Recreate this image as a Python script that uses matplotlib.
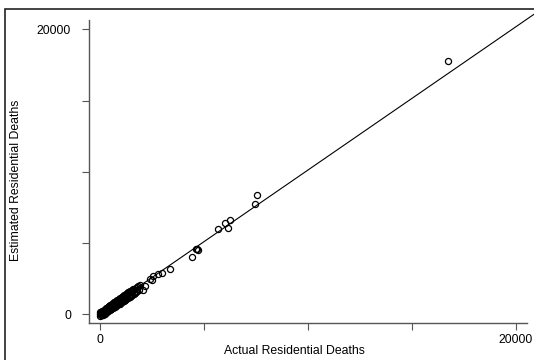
import matplotlib
matplotlib.use("Agg")
import matplotlib.pyplot as plt
from matplotlib.patches import Rectangle

plt.rcParams["font.family"] = ["Liberation Sans", "DejaVu Sans"]

# actual vs estimated residential deaths
actual = [0, 0, 20, 30, 50, 60, 80, 100, 110, 130, 150, 160, 180, 200, 210, 230,
          250, 260, 280, 300, 310, 330, 350, 370, 380, 400, 420, 440, 450, 470,
          490, 510, 520, 540, 560, 580, 600, 620, 640, 660, 680, 700, 720, 740,
          760, 780, 800, 820, 840, 860, 880, 900, 920, 940, 960, 980, 1000, 1020,
          1040, 1060, 1080, 1100, 1120, 1140, 1160, 1180, 1200, 1220, 1240, 1260,
          1280, 1300, 1320, 1340, 1360, 1380, 1400, 1420, 1440, 1460, 1480, 1500,
          1530, 1560, 1590, 1620, 1650, 1680, 1710, 1740, 1770, 1800, 1840, 1880,
          1920, 2080, 2160, 2400, 2480, 2560, 2770, 2970, 3370,
          4440, 4600, 4650, 4700, 5670, 6000, 6170, 6270, 7470, 7550, 16730]
estimated = [60, -80, 150, -60, 40, 200, -40, 120, 260, 30, 180, -20, 300, 90, 250, 60,
             330, 150, 400, 170, 420, 200, 480, 250, 520, 280, 560, 300, 600, 330,
             640, 360, 680, 400, 720, 420, 760, 470, 800, 500, 840, 540, 880, 580,
             930, 600, 960, 650, 1000, 700, 1040, 720, 1100, 760, 1130, 800, 1170, 840,
             1210, 880, 1250, 920, 1300, 960, 1330, 1000, 1380, 1040, 1420, 1080,
             1460, 1120, 1500, 1160, 1540, 1200, 1580, 1240, 1620, 1280, 1660, 1320,
             1700, 1380, 1750, 1440, 1800, 1500, 1850, 1560, 1900, 1620, 2000, 1700,
             2100, 1700, 1980, 2520, 2450, 2680, 2850, 2910, 3190,
             4030, 4590, 4620, 4500, 5970, 6430, 6080, 6590, 7760, 8390, 17800]

# fitted line
slope = 1.005
intercept = 80
line_x = [0, 20870]

fig = plt.figure(figsize=(5.34, 3.6), dpi=100)
ax = fig.add_axes([89 / 534, 37 / 360, 438 / 534, 303 / 360])

ax.plot(actual, estimated, "o", mfc="none", mec="black", ms=4.4, mew=0.9)
ax.plot(line_x, [slope * v + intercept for v in line_x], color="black", lw=0.8,
        clip_on=False)

ax.set_xlim(-530, 20530)
ax.set_ylim(-600, 20650)
ticks = [0, 5000, 10000, 15000, 20000]
ax.set_xticks(ticks, ["0", "", "", "", "20000"])
ax.set_yticks(ticks, ["0", "", "", "", "20000"])
ax.tick_params(axis="x", length=5, width=0.8, color="#555555", pad=3, labelsize=8.8)
ax.tick_params(axis="y", length=5, width=0.8, color="#555555", pad=8, labelsize=8.8)
for s in ["top", "right"]:
    ax.spines[s].set_visible(False)
for s in ["left", "bottom"]:
    ax.spines[s].set_color("#555555")
    ax.spines[s].set_linewidth(1.0)

ax.set_xlabel("Actual Residential Deaths", fontsize=8.8)
ax.set_ylabel("Estimated Residential Deaths", fontsize=8.8)
ax.xaxis.set_label_coords(0.47, -0.073)
ax.yaxis.set_label_coords(-0.153, 0.472)

# outer frame
fig.patches.append(Rectangle((5.5 / 534, -0.1), 1.2, (360 - 8.5) / 360 + 0.1,
                             transform=fig.transFigure, fill=False,
                             edgecolor="#222222", lw=1.2, clip_on=False))

fig.savefig("out.png", dpi=100)
